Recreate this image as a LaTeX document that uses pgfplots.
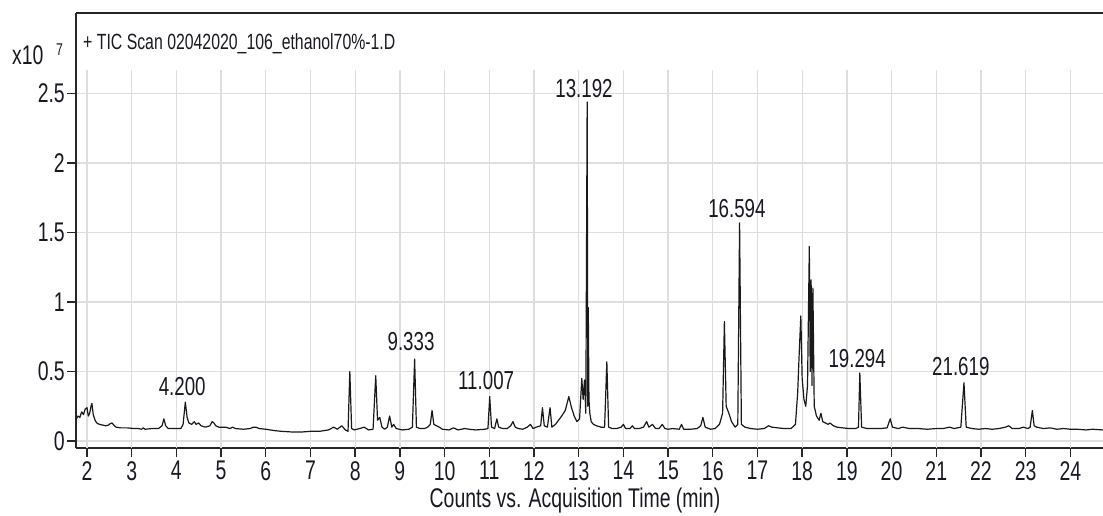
\documentclass[border=0pt]{standalone}
\usepackage{fontspec}
\setmainfont{Liberation Sans}[FakeStretch=0.72]
\usepackage{pgfplots}
\pgfplotsset{compat=1.18}
\definecolor{gridc}{RGB}{222,222,222}
\definecolor{txt}{RGB}{25,25,35}
\begin{document}
\begin{tikzpicture}
\begin{axis}[
    scale only axis,
    width=1027pt, height=435pt,
    xmin=1.754, xmax=24.73,
    ymin=-0.05, ymax=3.08,
    axis x line=box, axis y line=left,
    axis line style={-, line width=1.8pt, black!85},
    xtick pos=bottom,
    xtick={2,...,24},
    ytick={0,0.5,1,1.5,2,2.5},
    ymajorgrids=true,
    grid style={gridc, line width=1.3pt},
    tick align=outside,
    major tick length=9pt,
    tick style={line width=1.4pt, black!85},
    /pgf/number format/assume math mode=true,
    tick label style={font=\fontsize{27}{30}\selectfont, text=txt, inner sep=2pt},
    xticklabel style={yshift=-2pt},
    xlabel={Counts vs. Acquisition Time (min)},
    xlabel style={at={(rel axis cs:0.4859,0)}, anchor=base, yshift=-59pt,
                  font=\fontsize{27}{30}\selectfont, text=txt, inner sep=0pt},
    clip=true,
]
\pgfplotsinvokeforeach{2,...,24}{
  \draw[gridc, line width=1.3pt] (axis cs:#1,-0.05) -- (axis cs:#1,2.67);
}
\addplot[black!90, line width=1.2pt, line join=round] coordinates {
(1.76,0.16)(1.80,0.18)(1.84,0.17)(1.88,0.21)(1.92,0.19)(1.96,0.23)(2.00,0.24)(2.03,0.18)
(2.06,0.20)(2.09,0.25)(2.11,0.27)(2.14,0.19)(2.18,0.15)(2.22,0.13)(2.28,0.12)(2.35,0.115)
(2.42,0.11)(2.48,0.115)(2.52,0.125)(2.56,0.13)(2.60,0.115)(2.65,0.10)(2.75,0.095)(2.90,0.095)
(3.05,0.09)(3.15,0.09)(3.22,0.085)(3.26,0.095)(3.30,0.085)(3.45,0.09)(3.60,0.09)(3.68,0.11)
(3.72,0.16)(3.76,0.11)(3.82,0.09)(3.95,0.09)(4.10,0.09)(4.15,0.12)(4.20,0.28)(4.24,0.17)
(4.28,0.13)(4.34,0.12)(4.40,0.14)(4.44,0.12)(4.50,0.13)(4.55,0.11)(4.65,0.10)(4.75,0.11)
(4.80,0.14)(4.84,0.13)(4.88,0.11)(4.95,0.10)(5.10,0.10)(5.20,0.09)(5.26,0.10)(5.32,0.09)
(5.50,0.085)(5.65,0.09)(5.72,0.10)(5.78,0.10)(5.85,0.09)(6.00,0.085)(6.10,0.08)(6.20,0.075)
(6.35,0.07)(6.60,0.065)(6.80,0.065)(7.00,0.07)(7.20,0.07)(7.40,0.08)(7.52,0.10)(7.60,0.085)
(7.70,0.11)(7.78,0.08)(7.84,0.07)(7.88,0.50)(7.92,0.09)(7.98,0.08)(8.10,0.09)(8.20,0.10)
(8.30,0.08)(8.40,0.085)(8.46,0.47)(8.50,0.15)(8.55,0.17)(8.60,0.10)(8.66,0.085)(8.72,0.10)
(8.77,0.18)(8.82,0.10)(8.86,0.12)(8.92,0.09)(9.05,0.08)(9.20,0.085)(9.28,0.10)(9.33,0.59)
(9.37,0.10)(9.45,0.09)(9.55,0.09)(9.62,0.10)(9.68,0.12)(9.72,0.22)(9.76,0.12)(9.82,0.11)
(9.88,0.10)(9.95,0.085)(10.10,0.08)(10.20,0.095)(10.30,0.08)(10.45,0.09)(10.55,0.085)(10.70,0.08)
(10.90,0.085)(10.97,0.09)(11.01,0.32)(11.05,0.10)(11.12,0.09)(11.17,0.16)(11.21,0.10)(11.30,0.09)
(11.40,0.09)(11.48,0.11)(11.53,0.14)(11.58,0.10)(11.65,0.09)(11.75,0.085)(11.85,0.10)(11.92,0.12)
(11.98,0.09)(12.05,0.10)(12.15,0.11)(12.19,0.24)(12.23,0.11)(12.30,0.10)(12.36,0.24)(12.40,0.10)
(12.48,0.12)(12.55,0.15)(12.62,0.18)(12.70,0.22)(12.78,0.32)(12.84,0.24)(12.90,0.18)(12.96,0.14)
(13.02,0.16)(13.07,0.45)(13.10,0.30)(13.13,0.44)(13.16,0.20)(13.19,2.44)(13.205,0.25)(13.215,0.96)
(13.23,0.30)(13.25,0.20)(13.28,0.14)(13.33,0.12)(13.40,0.11)(13.50,0.10)(13.58,0.10)(13.63,0.57)
(13.67,0.10)(13.75,0.09)(13.85,0.09)(13.95,0.10)(14.00,0.12)(14.05,0.09)(14.15,0.09)(14.20,0.11)
(14.25,0.09)(14.35,0.09)(14.45,0.10)(14.52,0.14)(14.57,0.10)(14.65,0.12)(14.72,0.09)(14.80,0.09)
(14.87,0.12)(14.93,0.09)(15.00,0.085)(15.10,0.09)(15.25,0.085)(15.30,0.12)(15.35,0.085)(15.50,0.085)
(15.65,0.09)(15.73,0.11)(15.78,0.17)(15.83,0.10)(15.95,0.085)(16.05,0.09)(16.15,0.12)(16.22,0.20)
(16.26,0.86)(16.30,0.25)(16.36,0.20)(16.42,0.14)(16.50,0.10)(16.56,0.12)(16.60,1.57)(16.64,0.12)
(16.72,0.10)(16.85,0.09)(17.00,0.085)(17.15,0.09)(17.25,0.11)(17.32,0.10)(17.45,0.095)(17.60,0.09)
(17.75,0.09)(17.85,0.12)(17.90,0.35)(17.93,0.60)(17.97,0.90)(18.00,0.45)(18.04,0.30)(18.08,0.25)
(18.12,0.40)(18.16,1.40)(18.18,0.50)(18.20,1.16)(18.22,0.40)(18.24,1.10)(18.27,0.25)(18.32,0.18)
(18.38,0.15)(18.42,0.20)(18.46,0.14)(18.52,0.13)(18.58,0.12)(18.62,0.13)(18.70,0.11)(18.78,0.10)
(18.90,0.095)(19.05,0.09)(19.20,0.09)(19.26,0.10)(19.29,0.49)(19.33,0.10)(19.45,0.09)(19.60,0.09)
(19.75,0.09)(19.90,0.095)(19.97,0.16)(20.02,0.10)(20.15,0.09)(20.25,0.10)(20.40,0.09)(20.60,0.09)
(20.80,0.085)(21.00,0.09)(21.15,0.09)(21.30,0.10)(21.40,0.09)(21.55,0.10)(21.62,0.42)(21.67,0.10)
(21.80,0.09)(21.95,0.085)(22.10,0.09)(22.25,0.085)(22.40,0.09)(22.55,0.10)(22.62,0.11)(22.70,0.09)
(22.85,0.09)(22.95,0.10)(23.05,0.09)(23.10,0.10)(23.15,0.22)(23.19,0.11)(23.25,0.10)(23.40,0.09)
(23.55,0.095)(23.70,0.085)(23.85,0.09)(24.00,0.085)(24.15,0.085)(24.35,0.08)(24.50,0.085)(24.73,0.08)
};
% peak labels
\begin{scope}[every node/.style={font=\fontsize{26}{28}\selectfont, text=txt, inner sep=0pt, anchor=base}]
\node at (axis cs:4.13,0.33) {4.200};
\node at (axis cs:9.25,0.655) {9.333};
\node at (axis cs:10.93,0.37) {11.007};
\node at (axis cs:13.12,2.47) {13.192};
\node at (axis cs:16.54,1.61) {16.594};
\node at (axis cs:19.23,0.53) {19.294};
\node at (axis cs:21.55,0.47) {21.619};
\end{scope}
\end{axis}
% title and exponent
\node[anchor=base west, inner sep=0pt, text=txt, font=\fontsize{22}{24}\selectfont]
  at (7pt,398pt) {+ TIC Scan 02042020\_106\_ethanol70\%-1.D};
\node[anchor=base west, inner sep=0pt, text=txt, font=\fontsize{27}{30}\selectfont]
  at (-64pt,383pt) {x10};
\node[anchor=base west, inner sep=0pt, text=txt, font=\fontsize{17}{19}\selectfont]
  at (-20pt,392pt) {7};
\pgfresetboundingbox
\path[use as bounding box] (-76pt,-67pt) rectangle (1027pt,448pt);
\end{tikzpicture}
\end{document}
